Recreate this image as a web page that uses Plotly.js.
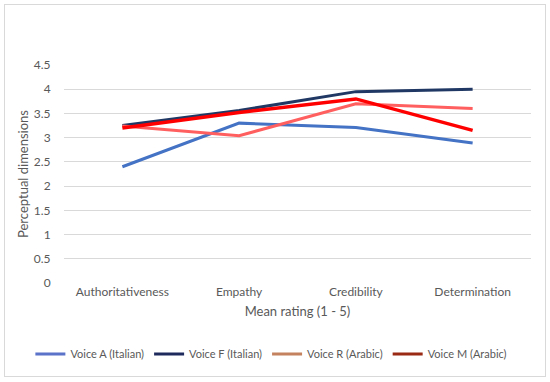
<!DOCTYPE html>
<html>
<head>
<meta charset="utf-8">
<script src="https://cdn.plot.ly/plotly-3.0.1.min.js"></script>
<style>
html,body{margin:0;padding:0;background:#fff;}
#wrap{position:relative;width:550px;height:382px;}
#chart{width:550px;height:382px;}
#frame{position:absolute;left:4px;top:4px;width:540px;height:371px;border:1px solid #d9d9d9;pointer-events:none;}
</style>
</head>
<body>
<div id="wrap"><div id="chart"></div><div id="frame"></div></div>
<script>
const categories = ["Authoritativeness", "Empathy", "Credibility", "Determination"];
const voiceA = [2.4, 3.3, 3.21, 2.89];
const voiceF = [3.25, 3.56, 3.95, 4.0];
const voiceR = [3.24, 3.04, 3.7, 3.6];
const voiceM = [3.2, 3.52, 3.8, 3.15];
const seriesNames = ["Voice A (Italian)", "Voice F (Italian)", "Voice R (Arabic)", "Voice M (Arabic)"];
const lineColors = ["#4472C4", "#203864", "#FF5F5F", "#FF0000"];
const legendColors = ["#5B73C8", "#1F2A5C", "#C4825E", "#9A2A14"];
const yTicks = [0, 0.5, 1, 1.5, 2, 2.5, 3, 3.5, 4, 4.5];

const series = [voiceA, voiceF, voiceR, voiceM];
const widths = [3, 3, 3, 3.5];
const traces = [];
series.forEach((vals, i) => {
  traces.push({
    type: "scatter", mode: "lines", x: categories, y: vals,
    line: {color: lineColors[i], width: widths[i]},
    showlegend: false, hoverinfo: "skip"
  });
});
seriesNames.forEach((name, i) => {
  traces.push({
    type: "scatter", mode: "lines", x: [null], y: [null], name: name,
    line: {color: legendColors[i], width: 3}
  });
});

const font = {family: "Lato, 'Open Sans', sans-serif", color: "#595959", size: 12};
const layout = {
  width: 550, height: 382,
  margin: {l: 63.5, r: 18.5, t: 65, b: 99},
  paper_bgcolor: "#fff", plot_bgcolor: "#fff",
  font: font,
  xaxis: {
    type: "category", range: [-0.5, 3.5], showgrid: false, zeroline: false, showline: false,
    ticks: "", tickfont: {size: 12, color: "#595959"},
    title: {text: "Mean rating (1 - 5)", font: {size: 13, color: "#595959"}, standoff: 8}
  },
  yaxis: {
    range: [0, 4.5], tickvals: yTicks, ticktext: yTicks.map(String),
    showgrid: true, gridcolor: "#d9d9d9", gridwidth: 1,
    zeroline: false, showline: false, ticks: "outside", ticklen: 10, tickcolor: "rgba(0,0,0,0)",
    tickfont: {size: 12, color: "#595959"},
    title: {text: "Perceptual dimensions", font: {size: 13, color: "#595959"}, standoff: 2}
  },
  legend: {
    orientation: "h", xref: "paper", yref: "paper",
    x: -0.072, xanchor: "left", y: -0.326, yanchor: "middle",
    font: {size: 11, color: "#595959"}, itemwidth: 30, tracegroupgap: 0
  },
  showlegend: true
};
Plotly.newPlot("chart", traces, layout, {displayModeBar: false, staticPlot: true});
</script>
</body>
</html>
